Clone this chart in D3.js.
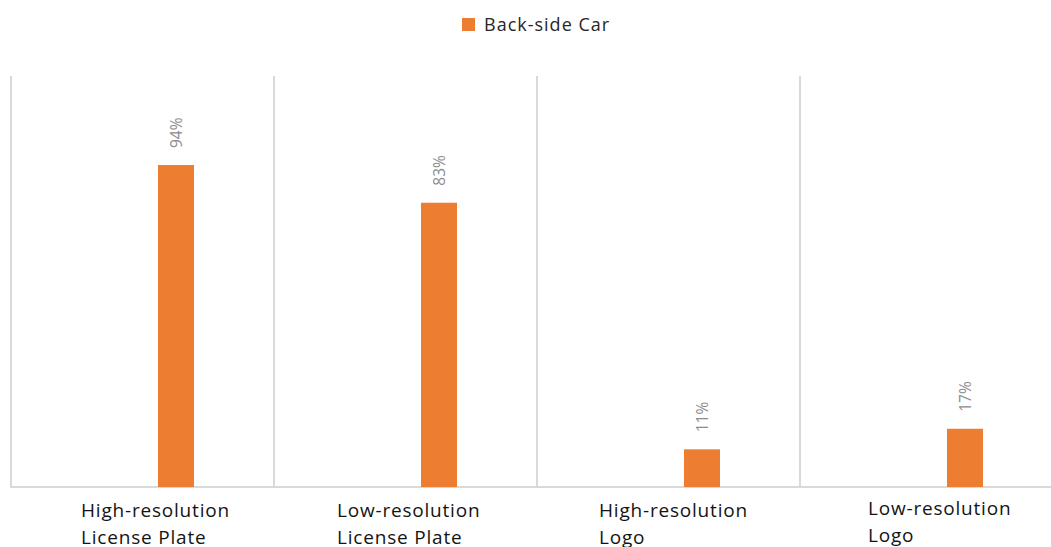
<!DOCTYPE html>
<html>
<head>
<meta charset="utf-8">
<script src="https://cdn.jsdelivr.net/npm/d3@7"></script>
<style>
  html, body { margin: 0; padding: 0; background: #fff; }
  svg { display: block; }
</style>
</head>
<body>
<div id="chart"></div>
<script>
// ---- data ----
const categories = [
  ["High-resolution", "License Plate"],
  ["Low-resolution", "License Plate"],
  ["High-resolution", "Logo"],
  ["Low-resolution", "Logo"]
];
const seriesName = "Back-side Car";
const values = [94, 83, 11, 17];
const valueLabels = ["94%", "83%", "11%", "17%"];

// ---- layout ----
const W = 1051, H = 547;
const plotLeft = 11, bandW = 263, plotTop = 76, plotBottom = 487;
const barW = 36, barOffset = 147;
const labelDx = [70, 63, 62, 68];   // left edge of category text within band
const labelDy = [0, 0, 0, -2];
const orange = "#ED7D31";

const svg = d3.select("#chart").append("svg").attr("width", W).attr("height", H);

const keys = categories.map(c => c.join(" "));
const x = d3.scaleBand().domain(keys).range([plotLeft, plotLeft + bandW * keys.length]).padding(0);
const y = d3.scaleLinear().domain([0, 120]).range([plotBottom, plotTop]);

// vertical gridlines between categories
svg.append("g").selectAll("line").data(keys).join("line")
  .attr("x1", d => x(d)).attr("x2", d => x(d))
  .attr("y1", y(120)).attr("y2", y(0))
  .attr("stroke", "#d9d9d9").attr("stroke-width", 2);

// baseline
svg.append("line")
  .attr("x1", plotLeft - 1).attr("x2", W)
  .attr("y1", y(0)).attr("y2", y(0))
  .attr("stroke", "#d9d9d9").attr("stroke-width", 2);

// bars
svg.append("g").selectAll("rect").data(values).join("rect")
  .attr("x", (d, i) => x(keys[i]) + barOffset)
  .attr("width", barW)
  .attr("y", d => y(d))
  .attr("height", d => y(0) - y(d))
  .attr("fill", orange);

// value labels (rotated)
svg.append("g").selectAll("text").data(values).join("text")
  .attr("transform", (d, i) => `translate(${x(keys[i]) + barOffset + barW / 2 + 5.5},${y(d) - 17}) rotate(-90)`)
  .attr("text-anchor", "start")
  .attr("font-family", "'Open Sans', sans-serif")
  .attr("font-size", 15.5)
  .attr("fill", "#8c8c8c")
  .text((d, i) => valueLabels[i]);

// category labels
const catG = svg.append("g");
categories.forEach((lines, i) => {
  const t = catG.append("text")
    .attr("x", x(keys[i]) + labelDx[i])
    .attr("y", 517 + labelDy[i])
    .attr("font-family", "'Open Sans', sans-serif")
    .attr("font-size", 19)
    .attr("letter-spacing", 0.8)
    .attr("fill", "#141414");
  lines.forEach((ln, j) => {
    t.append("tspan").attr("x", x(keys[i]) + labelDx[i]).attr("dy", j === 0 ? 0 : 27).text(ln);
  });
});

// legend
svg.append("rect").attr("x", 462).attr("y", 18).attr("width", 13).attr("height", 13).attr("fill", orange);
svg.append("text").attr("x", 484).attr("y", 31)
  .attr("font-family", "'Open Sans', sans-serif")
  .attr("font-size", 18)
  .attr("letter-spacing", 1)
  .attr("fill", "#262626")
  .text(seriesName);
</script>
</body>
</html>
